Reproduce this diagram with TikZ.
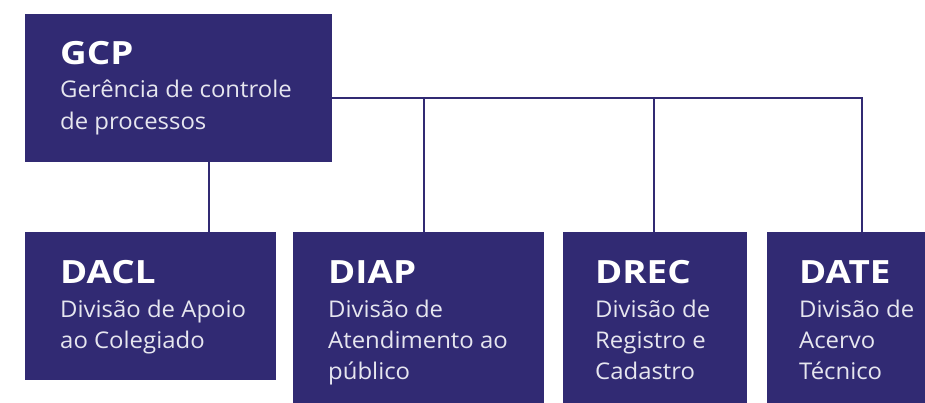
\documentclass[tikz,border=0pt]{standalone}
\usepackage{fontspec}
\setmainfont{Open Sans}
\newfontfamily\ttlfont[FakeStretch=1.15]{Open Sans Bold}
\newfontfamily\subfont[FakeStretch=1.04]{Open Sans}
\definecolor{navy}{HTML}{312A73}
\definecolor{subtxt}{HTML}{E6E6EF}
\begin{document}
\begin{tikzpicture}[x=1pt,y=-1pt,
  box/.style={fill=navy, draw=none, inner sep=0pt, anchor=north west},
  ttl/.style={text=white, inner sep=0pt, anchor=base west, font=\ttlfont\fontsize{32}{32}\selectfont},
  sub/.style={text=subtxt, inner sep=0pt, anchor=base west, align=left, font=\subfont\fontsize{23}{31.3}\selectfont},
  conn/.style={draw=navy, line width=2pt}]
\useasboundingbox (0,0) rectangle (925,403);
% boxes
\node[box, minimum width=307pt, minimum height=148pt] (gcp) at (25,14) {};
\node[box, minimum width=251pt, minimum height=148pt] (dacl) at (25,232) {};
\node[box, minimum width=251pt, minimum height=171pt] (diap) at (293,232) {};
\node[box, minimum width=184pt, minimum height=171pt] (drec) at (563,232) {};
\node[box, minimum width=158pt, minimum height=171pt] (date) at (767,232) {};
% connector positions
\coordinate (j1) at (209,98);
\coordinate (b2) at (424,98);
\coordinate (b3) at (654,98);
\coordinate (b4) at (862,98);
\draw[conn] (gcp.south -| j1) -- (dacl.north -| j1);
\draw[conn] (gcp.east |- b2) -- (b4) -- (date.north -| b4);
\draw[conn] (b2) -- (diap.north -| b2);
\draw[conn] (b3) -- (drec.north -| b3);
% texts (sub nodes are anchored at the baseline of their last line)
\node[ttl] (tgcp) at (60,65) {GCP};
\node[sub] (sgcp) at (60,129.3) {Gerência de controle\\de processos};
\node[ttl] (tdacl) at (60,283) {DACL};
\node[sub] (sdacl) at (60,348.3) {Divisão de Apoio\\ao Colegiado};
\node[ttl] (tdiap) at (328,283) {DIAP};
\node[sub] (sdiap) at (328,379.6) {Divisão de\\Atendimento ao\\público};
\node[ttl] (tdrec) at (595,283) {DREC};
\node[sub] (sdrec) at (595,379.6) {Divisão de\\Registro e\\Cadastro};
\node[ttl] (tdate) at (799,283) {DATE};
\node[sub] (sdate) at (799,379.6) {Divisão de\\Acervo\\Técnico};
\end{tikzpicture}
\end{document}
